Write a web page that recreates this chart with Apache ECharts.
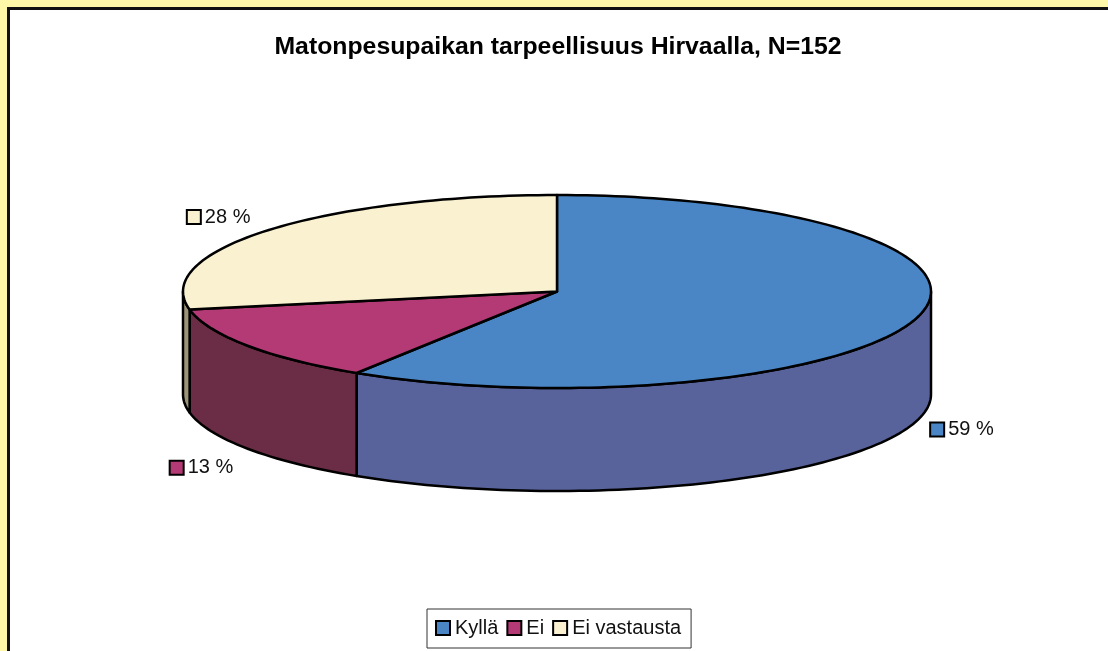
<!DOCTYPE html>
<html><head><meta charset="utf-8">
<style>html,body{margin:0;padding:0;background:#FFF8A8}#c{width:1108px;height:651px}</style>
<script src="https://cdn.jsdelivr.net/npm/echarts@6/dist/echarts.min.js"></script>
</head><body><div id="c"></div>
<script>
const categories = ['Kyllä', 'Ei', 'Ei vastausta'];
const values = [59, 13, 28];
const topColors = ['#4A86C5', '#B43A75', '#F9F1CF'];
const sideColors = ['#58639B', '#6B2D45', '#9C9478'];
const labelOffsets = [[14, 1], [-78, 12], [-82, -20]];
const title = 'Matonpesupaikan tarpeellisuus Hirvaalla, N=152';

const cx = 557, cy = 291.5, rx = 374, ry = 96.5, depth = 103;
const FONT = '"Liberation Sans", Arial, sans-serif';
const total = values.reduce((a, b) => a + b, 0);
const pt = (deg, dy) => {
  const r = deg * Math.PI / 180;
  return [cx + rx * Math.sin(r), cy - ry * Math.cos(r) + (dy || 0)];
};
const arc = (a, b, dy) => {
  const out = [], n = Math.max(2, Math.ceil(Math.abs(b - a) / 1.5));
  for (let i = 0; i <= n; i++) out.push(pt(a + (b - a) * i / n, dy));
  return out;
};
const lineStyle = { stroke: '#000', lineWidth: 2.5, lineJoin: 'round' };

function renderSlice(idx) {
  return function (params, api) {
    const before = values.slice(0, idx).reduce((a, b) => a + b, 0);
    const start = before / total * 360;
    const end = start + api.value(0) / total * 360;
    const children = [];
    const s = Math.max(start, 90), e = Math.min(end, 270);
    if (e > s) {
      const pts = arc(s, e, 0).concat(arc(e, s, depth));
      children.push({ type: 'polygon', z2: 1, shape: { points: pts },
        style: Object.assign({ fill: sideColors[idx] }, lineStyle) });
    }
    children.push({ type: 'polygon', z2: 2, shape: { points: [[cx, cy]].concat(arc(start, end, 0)) },
      style: Object.assign({ fill: topColors[idx] }, lineStyle) });
    const mid = (start + end) / 2;
    const front = mid > 90 && mid < 270;
    const a = pt(mid, front ? depth : 0);
    const lx = a[0] + labelOffsets[idx][0], ly = a[1] + labelOffsets[idx][1];
    children.push({ type: 'rect', z2: 3, shape: { x: lx, y: ly, width: 14, height: 14 },
      style: { fill: topColors[idx], stroke: '#000', lineWidth: 2 } });
    children.push({ type: 'text', z2: 3, x: lx + 18, y: ly + 7, style: {
      text: api.value(0) + ' %', fill: '#111', font: '20px ' + FONT, textVerticalAlign: 'middle' } });
    return { type: 'group', children };
  };
}

const chart = echarts.init(document.getElementById('c'), null, { renderer: 'canvas' });
chart.setOption({
  animation: false,
  backgroundColor: '#FFF8A8',
  title: { text: title, left: 553, top: 30, textAlign: 'center',
    textStyle: { fontFamily: FONT, fontSize: 24.8, fontWeight: 'bold', color: '#000' } },
  legend: {
    left: 427, top: 609, padding: [9, 10, 10, 8], orient: 'horizontal',
    itemWidth: 14, itemHeight: 14, itemGap: 8, icon: 'rect',
    borderColor: '#333', borderWidth: 1, backgroundColor: '#fff',
    textStyle: { fontFamily: FONT, fontSize: 20, color: '#111' },
    data: categories.map((name, i) => ({ name, itemStyle: { color: topColors[i], borderColor: '#000', borderWidth: 2 } }))
  },
  graphic: [{ type: 'rect', z: -1, silent: true,
    shape: { x: 8.5, y: 8.5, width: 1120, height: 680 },
    style: { fill: '#fff', stroke: '#111', lineWidth: 3 } }],
  series: categories.map((name, i) => ({
    type: 'custom', name, coordinateSystem: 'none', silent: true,
    itemStyle: { color: topColors[i] },
    data: [[values[i]]],
    renderItem: renderSlice(i)
  }))
});
</script></body></html>
